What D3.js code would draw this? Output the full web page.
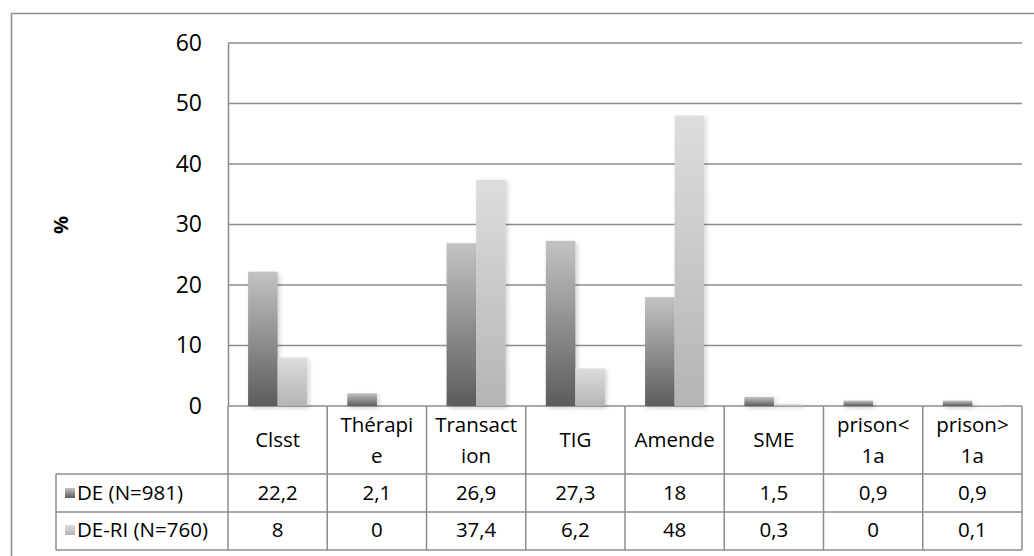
<!DOCTYPE html>
<html>
<head>
<meta charset="utf-8">
<script src="https://cdn.jsdelivr.net/npm/d3@7"></script>
<style>
  body { margin: 0; background: #fff; }
  text { font-family: "Open Sans", "Noto Sans", sans-serif; fill: #000; }
</style>
</head>
<body>
<svg id="chart"></svg>
<script>
// Data
var categories = ["Clsst", "Thérapie", "Transaction", "TIG", "Amende", "SME", "prison<1a", "prison>1a"];
var headerLines = [["Clsst"], ["Thérapi", "e"], ["Transact", "ion"], ["TIG"], ["Amende"], ["SME"], ["prison<", "1a"], ["prison>", "1a"]];
var seriesNames = ["DE (N=981)", "DE-RI (N=760)"];
var deValues = [22.2, 2.1, 26.9, 27.3, 18, 1.5, 0.9, 0.9];
var deriValues = [8, 0, 37.4, 6.2, 48, 0.3, 0, 0.1];
var yTicks = [0, 10, 20, 30, 40, 50, 60];

var series = [
    { name: seriesNames[0], values: deValues, grad: "gDE" },
    { name: seriesNames[1], values: deriValues, grad: "gDERI" }
];

// Layout
const W = 1034, H = 556;
var plot = { left: 228, right: 1022, top: 43, bottom: 406 };
var table = { labelLeft: 56, headerBottom: 474, row1Bottom: 512, row2Bottom: 550 };
var gridColor = "#8c8c8c";
var tableFont = "20.5px";

var svg = d3.select("#chart")
    .attr("width", W)
    .attr("height", H);

var defs = svg.append("defs");

// gradients for the bars
function addGradient(id, top, bottom) {
    var g = defs.append("linearGradient")
        .attr("id", id)
        .attr("x1", 0).attr("y1", 0).attr("x2", 0).attr("y2", 1);
    g.append("stop").attr("offset", "0%").attr("stop-color", top);
    g.append("stop").attr("offset", "100%").attr("stop-color", bottom);
}
addGradient("gDE", "#c3c3c3", "#5c5c5c");
addGradient("gDERI", "#dddddd", "#b4b4b4");

defs.append("filter")
    .attr("id", "shadow")
    .attr("x", "-20%").attr("y", "-20%").attr("width", "150%").attr("height", "150%")
    .append("feDropShadow")
    .attr("dx", 2).attr("dy", 2)
    .attr("stdDeviation", 2)
    .attr("flood-color", "#000")
    .attr("flood-opacity", 0.18);

// outer border (runs past the right and bottom edges)
svg.append("rect")
    .attr("x", 11.5).attr("y", 13.5)
    .attr("width", 1100).attr("height", 700)
    .attr("fill", "none")
    .attr("stroke", gridColor)
    .attr("stroke-width", 1.5);

// Scales
var xScale = d3.scaleBand()
    .domain(categories)
    .range([plot.left, plot.right])
    .padding(0);

var xSub = d3.scaleBand()
    .domain(seriesNames)
    .range([0, xScale.bandwidth()])
    .paddingInner(0)
    .paddingOuter(0.68);

var yScale = d3.scaleLinear()
    .domain([0, 60])
    .range([plot.bottom, plot.top]);

// gridlines
svg.append("g")
    .selectAll("line")
    .data(yTicks)
    .enter()
    .append("line")
    .attr("x1", plot.left)
    .attr("x2", plot.right)
    .attr("y1", d => yScale(d))
    .attr("y2", d => yScale(d))
    .attr("stroke", gridColor)
    .attr("stroke-width", 1.5);

// y axis
var yAxis = d3.axisLeft(yScale)
    .tickValues(yTicks)
    .tickSize(0)
    .tickPadding(26);

var yG = svg.append("g")
    .attr("transform", "translate(" + plot.left + ",0)")
    .call(yAxis);
yG.select(".domain")
    .attr("stroke", gridColor)
    .attr("stroke-width", 1.5);
yG.selectAll("text")
    .style("font-family", "'Open Sans', sans-serif")
    .style("font-size", "23px")
    .attr("fill", "#000");

// y axis label
svg.append("text")
    .attr("transform", "translate(68,225) rotate(-90)")
    .style("text-anchor", "middle")
    .style("font-size", "20px")
    .style("font-weight", "bold")
    .text("%");

// bars
var groups = svg.append("g")
    .selectAll("g")
    .data(series)
    .enter()
    .append("g")
    .attr("filter", "url(#shadow)");

groups.selectAll("rect")
    .data(function(s) {
        return s.values.map(function(v, i) {
            return { cat: categories[i], value: v, name: s.name, grad: s.grad };
        });
    })
    .enter()
    .append("rect")
    .attr("x", d => xScale(d.cat) + xSub(d.name))
    .attr("y", d => yScale(d.value))
    .attr("width", xSub.bandwidth())
    .attr("height", d => yScale(0) - yScale(d.value))
    .attr("fill", d => "url(#" + d.grad + ")");

// Data table
var tableG = svg.append("g");
var lineStyle = function(sel) {
    return sel.attr("stroke", gridColor).attr("stroke-width", 1.5);
};

// horizontal table lines
[table.headerBottom, table.row1Bottom, table.row2Bottom].forEach(function(y) {
    tableG.append("line")
        .attr("x1", table.labelLeft).attr("x2", plot.right)
        .attr("y1", y).attr("y2", y)
        .call(lineStyle);
});

// vertical table lines
var bounds = categories.map(d => xScale(d)).concat([plot.right]);
tableG.selectAll(".vline")
    .data(bounds)
    .enter()
    .append("line")
    .attr("class", "vline")
    .attr("x1", d => d).attr("x2", d => d)
    .attr("y1", plot.bottom).attr("y2", table.row2Bottom)
    .call(lineStyle);

tableG.append("line")
    .attr("x1", table.labelLeft).attr("x2", table.labelLeft)
    .attr("y1", table.headerBottom).attr("y2", table.row2Bottom)
    .call(lineStyle);

// header labels
var headerMid = (plot.bottom + table.headerBottom) / 2;
var lineH = 31;
var headers = tableG.selectAll(".hdr")
    .data(headerLines)
    .enter()
    .append("text")
    .attr("class", "hdr")
    .style("font-size", tableFont)
    .style("text-anchor", "middle")
    .attr("x", (d, i) => xScale(categories[i]) + xScale.bandwidth() / 2)
    .attr("y", headerMid);

headers.selectAll("tspan")
    .data(d => d.map((t, j) => ({ t: t, j: j, n: d.length })))
    .enter()
    .append("tspan")
    .attr("x", function() { return d3.select(this.parentNode).attr("x"); })
    .attr("y", d => headerMid + (d.j - (d.n - 1) / 2) * lineH)
    .attr("dy", "0.35em")
    .text(d => d.t);

// value rows
var rowMids = [(table.headerBottom + table.row1Bottom) / 2, (table.row1Bottom + table.row2Bottom) / 2 - 1];
var fmt = v => String(v).replace(".", ",");

series.forEach(function(s, r) {
    tableG.append("rect")
        .attr("x", 65).attr("y", rowMids[r] - 5)
        .attr("width", 10).attr("height", 10)
        .attr("fill", "url(#" + s.grad + ")");

    tableG.append("text")
        .attr("x", 77)
        .attr("y", rowMids[r])
        .attr("dy", "0.35em")
        .style("font-size", tableFont)
        .text(s.name);

    tableG.selectAll(".val" + r)
        .data(s.values)
        .enter()
        .append("text")
        .attr("class", "val" + r)
        .attr("x", (d, i) => xScale(categories[i]) + xScale.bandwidth() / 2)
        .attr("y", rowMids[r])
        .attr("dy", "0.35em")
        .style("font-size", tableFont)
        .style("text-anchor", "middle")
        .text(d => fmt(d));
});
</script>
</body>
</html>
